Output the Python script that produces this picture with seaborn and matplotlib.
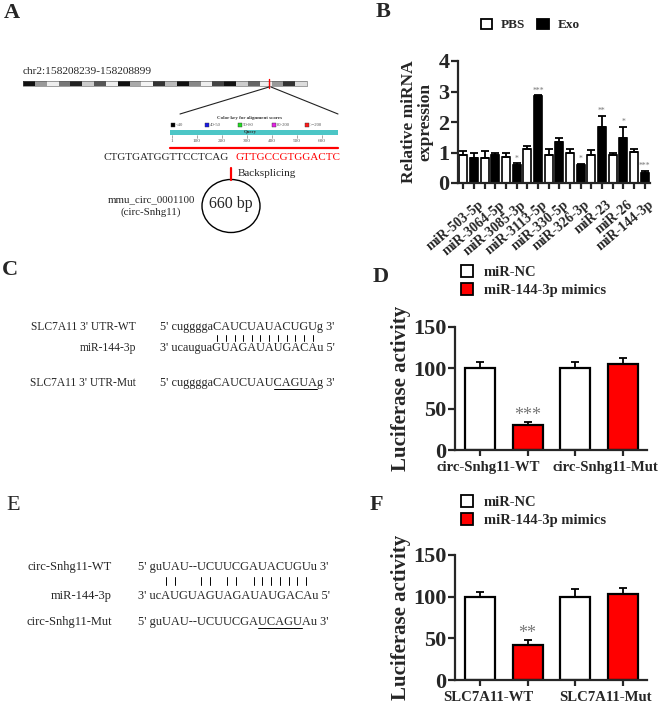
import matplotlib
matplotlib.use("Agg")
import matplotlib.pyplot as plt
from matplotlib.patches import Patch, Rectangle, Ellipse
import matplotlib.transforms as mtransforms
import seaborn as sns
import numpy as np
import pandas as pd

W, H = 669, 705

# ---- panel A (schematic)
chrom_label = "chr2:158208239-158208899"
ideogram_shades = ["#111", "#999", "#eee", "#777", "#222", "#ccc", "#555", "#eee",
                   "#111", "#aaa", "#f4f4f4", "#333", "#bbb", "#111", "#888", "#eee",
                   "#444", "#111", "#ccc", "#666", "#eee", "#999", "#333", "#ddd"]
key_colors = ["black", "#1a1ae6", "#22dd22", "#e622e6", "#ff1a1a"]
key_labels = ["<40", "40-50", "50-80", "80-200", ">=200"]
query_ticks = [1, 100, 200, 300, 400, 500, 600]
query_len = 660
seq_left = "CTGTGATGGTTCCTCAG"
seq_right = "GTTGCCGTGGACTC"
circ_name = "mmu_circ_0001100\n(circ-Snhg11)"
circ_size = "660 bp"

# ---- panel B
mirnas = ["miR-503-5p", "miR-3064-5p", "miR-3085-3p", "miR-3113-5p", "miR-330-5p",
          "miR-326-3p", "miR-23", "miR-26", "miR-144-3p"]
pbs_mean = [0.93, 0.82, 0.85, 1.10, 0.93, 1.00, 0.93, 0.93, 1.02]
pbs_err = [0.13, 0.22, 0.13, 0.10, 0.17, 0.10, 0.14, 0.05, 0.11]
exo_mean = [0.83, 0.92, 0.60, 2.85, 1.33, 0.60, 1.83, 1.48, 0.33]
exo_err = [0.17, 0.08, 0.05, 0.03, 0.14, 0.03, 0.37, 0.37, 0.07]
exo_sig = ["", "", "*", "***", "", "*", "**", "*", "***"]

# ---- panel C / E (sequence alignments)
c_labels = ["SLC7A11 3' UTR-WT", "miR-144-3p", "SLC7A11 3' UTR-Mut"]
c_seqs = ["5' cuggggaCAUCUAUACUGUg 3'", "3' ucauguaGUAGAUAUGACAu 5'",
          "5' cuggggaCAUCUAUCAGUAg 3'"]
c_match = "          ||||||||||||    "
c_mut_underline = (17, 22)
e_labels = ["circ-Snhg11-WT", "miR-144-3p", "circ-Snhg11-Mut"]
e_seqs = ["5' guUAU--UCUUCGAUACUGUu 3'", "3' ucAUGUAGUAGAUAUGACAu 5'",
          "5' guUAU--UCUUCGAUCAGUAu 3'"]
e_match = "     ||   || || |||||||    "
e_mut_underline = (17, 22)

# ---- panel D / F (luciferase)
conditions = ["miR-NC", "miR-144-3p mimics"]
d_groups = ["circ-Snhg11-WT", "circ-Snhg11-Mut"]
d_nc = [100, 100]
d_nc_err = [7, 7]
d_mim = [31, 105]
d_mim_err = [3.5, 7]
d_sig = ["***", ""]
f_groups = ["SLC7A11-WT", "SLC7A11-Mut"]
f_nc = [100, 100]
f_nc_err = [6, 9]
f_mim = [42, 103]
f_mim_err = [6, 8]
f_sig = ["**", ""]

sns.set_theme(style="ticks")
plt.rcParams["font.family"] = ["Liberation Serif", "DejaVu Serif"]
plt.rcParams["axes.linewidth"] = 1.6

fig = plt.figure(figsize=(W / 100, H / 100), dpi=100)
bg = fig.add_axes([0, 0, 1, 1])
bg.set_xlim(0, W)
bg.set_ylim(H, 0)
bg.axis("off")
renderer = fig.canvas.get_renderer()


def px_rect(l, t, r, b):
    return [l / W, 1 - b / H, (r - l) / W, (b - t) / H]


def text_width(s, **kw):
    t = bg.text(0, 0, s, **kw)
    w = t.get_window_extent(renderer).width
    t.remove()
    return w


def shift(label, dx_px):
    off = mtransforms.ScaledTranslation(dx_px / 100, 0, fig.dpi_scale_trans)
    label.set_transform(label.get_transform() + off)


# panel letters
for lab, x, y, wt in [("A", 12, 13, "bold"), ("B", 383, 12, "bold"), ("C", 10, 270, "bold"),
                      ("D", 381, 277, "bold"), ("E", 13, 505, "normal"), ("F", 376, 505, "bold")]:
    bg.text(x, y, lab, fontsize=16, weight=wt, ha="center", va="center")

# ---- panel A drawing
bg.text(23, 72, chrom_label, fontsize=8.2, va="center")
n = len(ideogram_shades)
bw = (307 - 23) / n
for i, c in enumerate(ideogram_shades):
    bg.add_patch(Rectangle((23 + i * bw, 81), bw, 5, facecolor=c, edgecolor="none"))
bg.add_patch(Rectangle((23, 81), 284, 5, facecolor="none", edgecolor="#555", lw=0.4))
bg.plot([269, 269], [79, 88], color="red", lw=1)
bg.plot([269, 180], [87, 114], color="#222", lw=0.8)
bg.plot([271, 338], [87, 114], color="#222", lw=0.8)
bg.text(250, 118, "Color key for alignment scores", fontsize=3.6, weight="bold",
        ha="center", va="center", color="#333")
for i, (c, l) in enumerate(zip(key_colors, key_labels)):
    x0 = 171 + i * 33.5
    bg.add_patch(Rectangle((x0, 122.5), 4, 4, facecolor=c, edgecolor="#333", lw=0.3))
    bg.text(x0 + 5, 124.8, l, fontsize=3.4, va="center", color="#555")
bg.add_patch(Rectangle((170, 130), 168, 5, facecolor="#4cc6c6", edgecolor="none"))
bg.text(250, 132.3, "Query", fontsize=3.4, weight="bold", ha="center", va="center", color="#333")
for t in query_ticks:
    x = 172 + 0.25 * (t - 1)
    bg.plot([x, x], [135, 137.5], color="#666", lw=0.4)
    bg.text(x, 141, str(t), fontsize=3.8, ha="center", va="center", color="#555")
bg.plot([170, 338], [148, 148], color="red", lw=1.6)
bg.text(103, 158, seq_left, fontsize=8.0, va="center")
bg.text(236, 158, seq_right, fontsize=8.0, va="center", color="red")
bg.plot([231, 231], [168, 180], color="red", lw=1.6)
bg.text(238, 174, "Backsplicing", fontsize=8, va="center")
bg.add_patch(Ellipse((231, 206), 58, 53, facecolor="none", edgecolor="black", lw=1.0))
bg.text(231, 204, circ_size, fontsize=11.5, ha="center", va="center")
bg.text(151, 206, circ_name, fontsize=7.8, ha="center", va="center", linespacing=1.45)


# ---- panels C / E
def alignment(labels, seqs, match, under, xl, xs, ys, ypipe, lsize, ssize, ph):
    kw = dict(fontsize=ssize, va="center")
    for lab, s, y in zip(labels, seqs, ys):
        bg.text(xl, y, lab, ha="right", fontsize=lsize, va="center")
        bg.text(xs, y, s, ha="left", **kw)
    top = seqs[0]
    for i, m in enumerate(match):
        if m == "|":
            cx = xs + text_width(top[:i], **kw) + text_width(top[i], **kw) / 2
            bg.plot([cx, cx], [ypipe - ph, ypipe + ph], color="black", lw=0.7)
    s = seqs[2]
    x0 = xs + text_width(s[:under[0]], **kw)
    x1 = xs + text_width(s[:under[1]], **kw)
    bg.plot([x0, x1], [ys[2] + 6, ys[2] + 6], color="black", lw=0.7)


alignment(c_labels, c_seqs, c_match, c_mut_underline, 136, 160, [327, 348, 383], 338,
          8.3, 8.8, 3.2)
alignment(e_labels, e_seqs, e_match, e_mut_underline, 112, 138, [567, 596, 622], 581,
          9.0, 8.9, 4.0)


# ---- bar panels
def style_axes(ax, xpad):
    sns.despine(ax=ax)
    ax.tick_params(axis="y", which="major", direction="out", length=5, width=1.6, pad=1)
    ax.tick_params(axis="x", which="minor", direction="out", length=4, width=1.6)
    ax.tick_params(axis="x", which="major", length=0, pad=xpad)
    for lab in ax.get_yticklabels():
        lab.set_fontweight("bold")
    ax.set_xlabel("")
    ax.patch.set_alpha(0)


def add_errors(ax, errs_list, sig=None, sig_size=6, sig_off=0.05):
    centers = []
    for cont, errs in zip(ax.containers, errs_list):
        xs = [b.get_x() + b.get_width() / 2 for b in cont]
        ys = [b.get_height() for b in cont]
        centers += xs
        ax.errorbar(xs, ys, yerr=[np.zeros(len(errs)), errs], fmt="none", ecolor="black",
                    elinewidth=1.3, capsize=3, capthick=1.3, zorder=1)
    if sig is not None:
        cont = ax.containers[1]
        for b, e, s in zip(cont, errs_list[1], sig):
            if s:
                ax.text(b.get_x() + b.get_width() / 2, b.get_height() + e + sig_off, s,
                        ha="center", va="bottom", fontsize=sig_size, color="#777")
    ax.set_xticks(sorted(centers), minor=True)


# B
ax_b = fig.add_axes(px_rect(458, 61, 650, 183))
df_b = pd.DataFrame({"miRNA": mirnas * 2,
                     "group": ["PBS"] * len(mirnas) + ["Exo"] * len(mirnas),
                     "value": pbs_mean + exo_mean})
sns.barplot(data=df_b, x="miRNA", y="value", hue="group", hue_order=["PBS", "Exo"],
            palette={"PBS": "white", "Exo": "black"}, width=1.0, gap=0.22, errorbar=None,
            edgecolor="black", linewidth=1.2, saturation=1, legend=False, ax=ax_b)
add_errors(ax_b, [pbs_err, exo_err], exo_sig, sig_size=5.5, sig_off=0.02)
ax_b.set_xlim(-0.5, len(mirnas) - 0.5)
ax_b.set_ylim(0, 4)
ax_b.set_yticks([0, 1, 2, 3, 4])
ax_b.tick_params(axis="y", labelsize=16)
ax_b.set_xticklabels(mirnas, rotation=40, ha="right", rotation_mode="anchor",
                     fontsize=10, fontweight="bold")
ax_b.set_ylabel("Relative miRNA\nexpression", fontsize=12.5, fontweight="bold",
                labelpad=4, linespacing=1.0)
style_axes(ax_b, 11)
for lab in ax_b.get_xticklabels():
    shift(lab, 9)
fig.legend(handles=[Patch(facecolor="white", edgecolor="black", lw=1.3),
                    Patch(facecolor="black", edgecolor="black", lw=1.3)],
           labels=["PBS", "Exo"], ncol=2, loc="center left", frameon=False,
           bbox_to_anchor=(474 / W, 1 - 25 / H), handlelength=0.85, handleheight=0.85,
           handletextpad=0.7, columnspacing=0.9, borderpad=0,
           prop={"weight": "bold", "size": 9.5})


def luc_panel(rect, groups, nc, nc_err, mim, mim_err, sig, leg_top):
    ax = fig.add_axes(px_rect(*rect))
    df = pd.DataFrame({"construct": groups * 2,
                       "condition": [conditions[0]] * len(groups) + [conditions[1]] * len(groups),
                       "value": nc + mim})
    sns.barplot(data=df, x="construct", y="value", hue="condition", hue_order=conditions,
                palette={conditions[0]: "white", conditions[1]: "#ff0000"}, width=1.0,
                gap=0.37, errorbar=None, edgecolor="black", linewidth=1.6, saturation=1,
                legend=False, ax=ax)
    add_errors(ax, [nc_err, mim_err], sig, sig_size=13, sig_off=-3)
    ax.set_xlim(-0.51, 1.5)
    ax.set_ylim(0, 150)
    ax.set_yticks([0, 50, 100, 150])
    ax.tick_params(axis="y", labelsize=16)
    ax.set_xticklabels(groups, fontsize=10.6, fontweight="bold")
    ax.set_ylabel("Luciferase activity", fontsize=15, fontweight="bold", labelpad=2)
    style_axes(ax, 8)
    for lab, dx in zip(ax.get_xticklabels(), [-15, 6]):
        shift(lab, dx)
    ax.legend(handles=[Patch(facecolor="white", edgecolor="black", lw=1.3),
                       Patch(facecolor="#ff0000", edgecolor="black", lw=1.3)],
              labels=conditions, loc="upper left", frameon=False,
              bbox_to_anchor=(461 / W, 1 - leg_top / H), bbox_transform=fig.transFigure,
              handlelength=0.85, handleheight=0.85, handletextpad=0.7, labelspacing=0.3,
              borderpad=0, borderaxespad=0, prop={"weight": "bold", "size": 10.5})
    return ax


luc_panel((455, 327, 647, 450), d_groups, d_nc, d_nc_err, d_mim, d_mim_err, d_sig, 265)
luc_panel((455, 555, 647, 680), f_groups, f_nc, f_nc_err, f_mim, f_mim_err, f_sig, 495)

fig.savefig("out.png", dpi=100)
